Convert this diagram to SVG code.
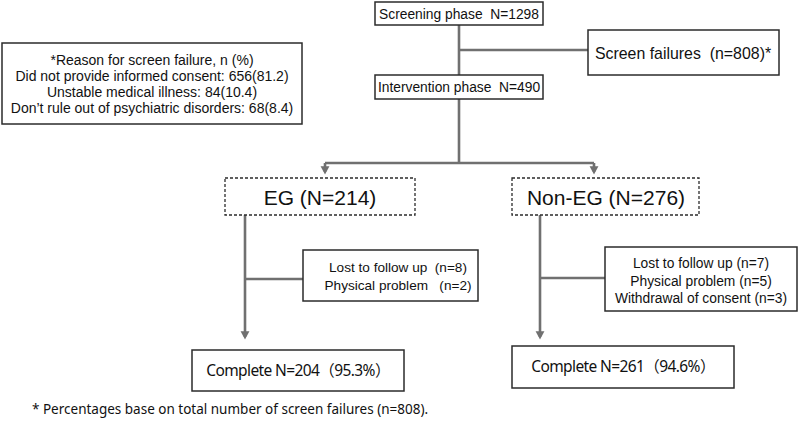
<svg xmlns="http://www.w3.org/2000/svg" width="800" height="427" viewBox="0 0 800 427">
<style>
.box{fill:#fff;stroke:#2b2b2b;stroke-width:1.5}
.dash{fill:#fff;stroke:#2b2b2b;stroke-width:1.3;stroke-dasharray:3 2}
.ln{fill:none;stroke:#707070;stroke-width:2.6}
.t{font-family:"Liberation Sans",Arial,sans-serif;fill:#111;text-anchor:middle}
.c{font-family:"Noto Sans","Noto Sans CJK SC",sans-serif;fill:#111;text-anchor:middle;letter-spacing:-0.6px}
</style>
<defs>
<marker id="ah" markerWidth="4" markerHeight="4" refX="2.2" refY="2" orient="auto" markerUnits="strokeWidth">
<path d="M0,0.3 L3.2,2 L0,3.7 z" fill="#707070"/>
</marker>
</defs>
<g id="connectors">
<path class="ln" d="M459,25 V75"/>
<path class="ln" d="M459,50 H588"/>
<path class="ln" d="M459,99 V163"/>
<path class="ln" d="M325,163 H594"/>
<path class="ln" d="M325,163 V172" marker-end="url(#ah)"/>
<path class="ln" d="M594,163 V172" marker-end="url(#ah)"/>
<path class="ln" d="M245,215 V337" marker-end="url(#ah)"/>
<path class="ln" d="M245,279 H303"/>
<path class="ln" d="M540,215 V337" marker-end="url(#ah)"/>
<path class="ln" d="M540,278 H605"/>
</g>
<g id="reason">
<rect class="box" x="2" y="43" width="300" height="81"/>
<text class="t" font-size="14" x="152" y="65">*Reason for screen failure, n (%)</text>
<text class="t" font-size="14" x="152" y="81">Did not provide informed  consent: 656(81.2)</text>
<text class="t" font-size="14" x="152" y="97">Unstable  medical illness: 84(10.4)</text>
<text class="t" font-size="14" x="152" y="113">Don’t rule out of psychiatric disorders: 68(8.4)</text>
</g>
<g id="screening">
<rect class="box" x="375" y="2" width="168" height="23"/>
<text class="t" font-size="13.8" x="459" y="18.5" xml:space="preserve">Screening phase  N=1298</text>
</g>
<g id="screenfail">
<rect class="box" x="588" y="30" width="191" height="45"/>
<text class="t" font-size="15.9" x="683" y="58.5" xml:space="preserve">Screen failures  (n=808)*</text>
</g>
<g id="intervention">
<rect class="box" x="375" y="75" width="168" height="24"/>
<text class="t" font-size="13.8" x="459" y="92" xml:space="preserve">Intervention phase  N=490</text>
</g>
<g id="eg">
<rect class="dash" x="225" y="178" width="190" height="37"/>
<text class="t" font-size="21" x="320" y="204.5">EG (N=214)</text>
</g>
<g id="noneg">
<rect class="dash" x="512" y="178" width="187" height="37"/>
<text class="t" font-size="21" x="606" y="204.5">Non-EG (N=276)</text>
</g>
<g id="eg-loss">
<rect class="box" x="303" y="250" width="175" height="51"/>
<text class="t" font-size="13.6" x="398" y="272" xml:space="preserve">Lost to follow up  (n=8)</text>
<text class="t" font-size="13.6" x="398" y="290" xml:space="preserve">Physical problem   (n=2)</text>
</g>
<g id="noneg-loss">
<rect class="box" x="605" y="247" width="192" height="64"/>
<text class="t" font-size="13.8" x="701" y="268">Lost to follow up (n=7)</text>
<text class="t" font-size="13.8" x="701" y="285.5">Physical problem (n=5)</text>
<text class="t" font-size="13.8" x="701" y="303">Withdrawal of consent (n=3)</text>
</g>
<g id="eg-complete">
<rect class="box" x="192" y="350" width="212" height="41"/>
<text class="c" font-size="15.5" x="298" y="376">Complete N=204（95.3%）</text>
</g>
<g id="noneg-complete">
<rect class="box" x="512" y="346" width="222" height="42"/>
<text class="c" font-size="15.5" x="623" y="372">Complete N=261（94.6%）</text>
</g>
<text font-family="'Noto Sans','Open Sans',sans-serif" font-size="13.5" fill="#111" x="32" y="414">* Percentages base on total number of screen failures (n=808).</text>
</svg>
